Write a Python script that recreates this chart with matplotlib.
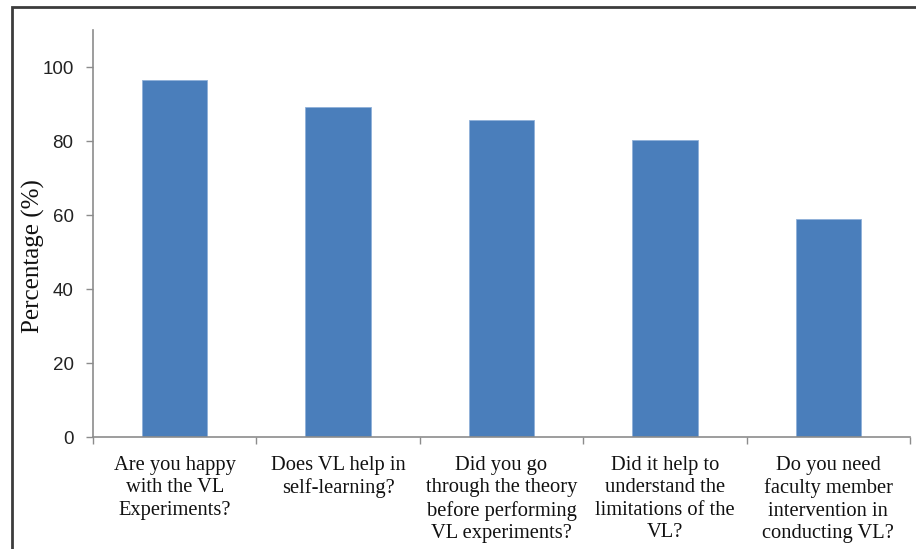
import matplotlib

matplotlib.use("Agg")

import matplotlib.pyplot as plt
from matplotlib.patches import Rectangle

QUESTIONS = [
    "Are you happy\nwith the VL\nExperiments?",
    "Does VL help in\nself-learning?",
    "Did you go\nthrough the theory\nbefore performing\nVL experiments?",
    "Did it help to\nunderstand the\nlimitations of the\nVL?",
    "Do you need\nfaculty member\nintervention in\nconducting VL?",
]
PERCENT = [96.5, 89.2, 85.7, 80.3, 58.9]
Y_TICKS = [0, 20, 40, 60, 80, 100]

BAR_COLOR = "#4a7ebb"
AXIS_COLOR = "#8c8c8c"

fig = plt.figure(figsize=(9.16, 5.49), dpi=100)
ax = fig.add_axes([93 / 916, 1 - 437 / 549, (910 - 93) / 916, (437 - 30) / 549])

# outer frame (only left and top edges are visible in the crop)
fig.patches.append(Rectangle((12 / 916, -0.5), 2, 1.5 - 7 / 549, transform=fig.transFigure,
                             fill=False, edgecolor="#3c3c3c", linewidth=2))

x = list(range(len(PERCENT)))
ax.bar(x, PERCENT, width=0.4, color=BAR_COLOR, edgecolor="#8fb0d9", linewidth=0.6)

ax.set_xlim(-0.5, len(PERCENT) - 0.5)
ax.set_ylim(0, 110)

ax.set_yticks(Y_TICKS)
ax.set_yticklabels([str(t) for t in Y_TICKS], fontfamily="Liberation Sans", fontsize=13.5, color="#222222")
ax.tick_params(axis="y", direction="out", length=5, width=1, color=AXIS_COLOR, pad=9)

ax.set_xticks(x)
ax.set_xticklabels(QUESTIONS, fontfamily="Liberation Serif", fontsize=14.8, color="#111111", linespacing=1.25)
ax.tick_params(axis="x", which="major", length=0, pad=13.5)
ax.set_xticks([i - 0.5 for i in range(len(PERCENT) + 1)], minor=True)
ax.tick_params(axis="x", which="minor", direction="out", length=5, width=1, color=AXIS_COLOR)

ax.set_ylabel("Percentage (%)", fontfamily="Liberation Serif", fontsize=18, color="#111111")
ax.yaxis.set_label_coords((45 - 93) / 817, (437 - 256) / 407)

for side in ["top", "right"]:
    ax.spines[side].set_visible(False)
for side in ["left", "bottom"]:
    ax.spines[side].set_color(AXIS_COLOR)
    ax.spines[side].set_linewidth(1.2)

fig.savefig("out.png", dpi=100)
